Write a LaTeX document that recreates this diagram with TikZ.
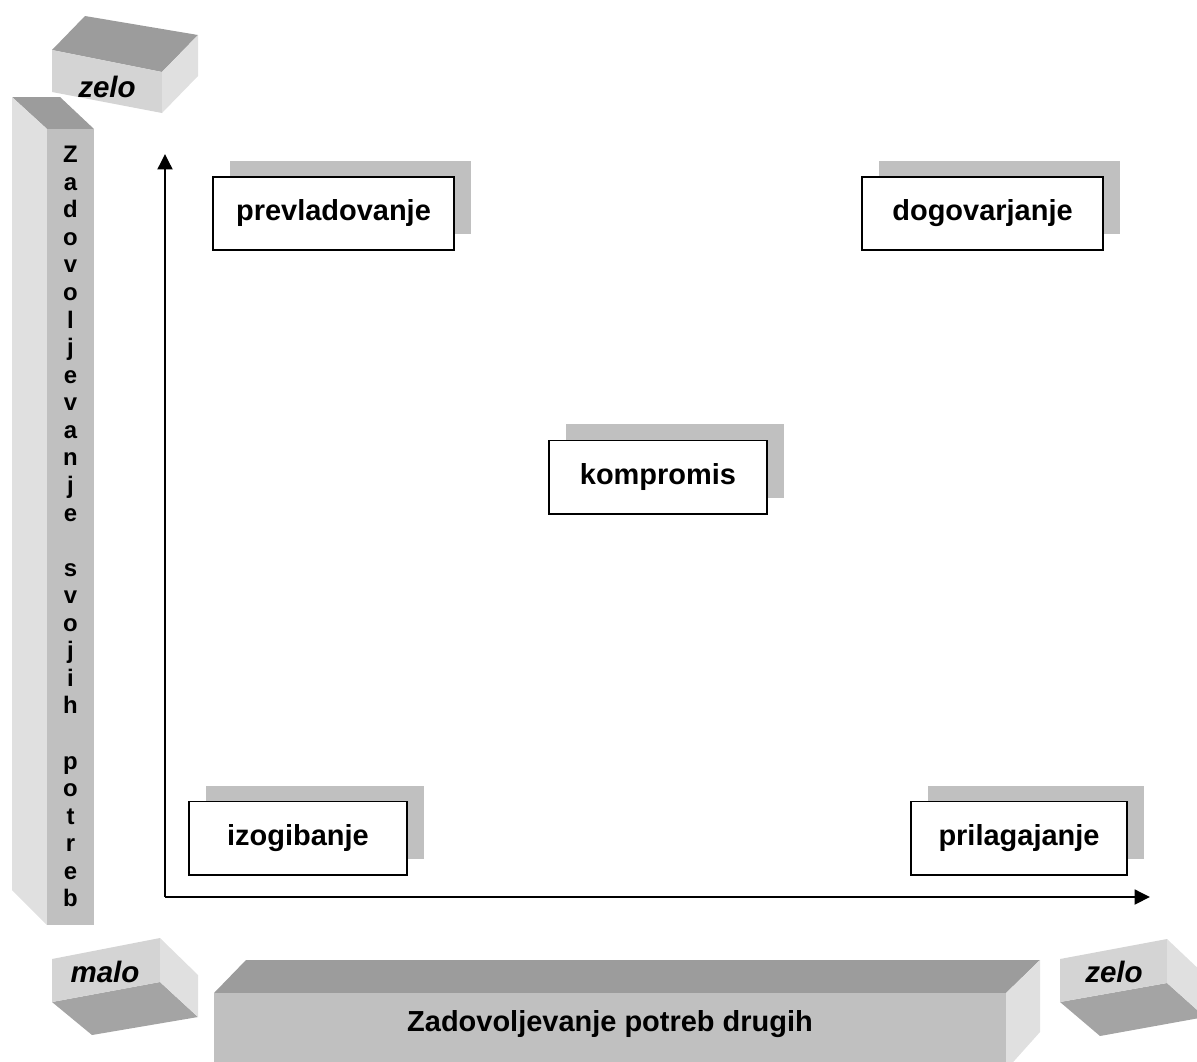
\documentclass[tikz,border=0pt]{standalone}
\usepackage{fontspec}
\setmainfont{Liberation Sans}
\usetikzlibrary{arrows.meta,shadows}
\definecolor{topgrey}{HTML}{9C9C9C}
\definecolor{frontgrey}{HTML}{C0C0C0}
\definecolor{sidegrey}{HTML}{E0E0E0}
\definecolor{capgrey}{HTML}{D4D4D4}
\definecolor{undergrey}{HTML}{A4A4A4}

\begin{document}
\begin{tikzpicture}[x=0.025cm,y=-0.025cm,
every node/.style={inner sep=0pt},
stylebox/.style={draw,line width=1.4pt,fill=white,minimum width=#1*0.025cm,
  minimum height=1.825cm,font=\fontsize{20.6}{24}\selectfont\bfseries,
  drop shadow={shadow xshift=0.42cm,shadow yshift=0.4cm,opacity=1,fill=frontgrey}},
endlabel/.style={font=\fontsize{21}{24}\selectfont\bfseries\itshape},
axis/.style={line width=1.9pt,-{Triangle[length=11pt,width=10.5pt]}}]
\useasboundingbox (0,0) rectangle (1197,1061);
\clip (0,0) rectangle (1197,1061);

% top zelo
\fill[topgrey] (52,50) -- (85,16) -- (198,35) -- (162,72) -- cycle;
\fill[capgrey] (52,50) -- (162,72) -- (162,113) -- (52,92) -- cycle;
\fill[sidegrey] (162,72) -- (198,35) -- (198,76) -- (162,113) -- cycle;
\node[endlabel] (zeloA) at (107,87) {zelo};

% vertical bar
\fill[topgrey] (12,97) -- (60,97) -- (94,129) -- (47,129) -- cycle;
\fill[sidegrey] (12,97) -- (47,129) -- (47,925) -- (12,890) -- cycle;
\fill[frontgrey] (47,129) rectangle (94,925);
\node[anchor=north,align=center,font=\fontsize{17}{19.6}\selectfont\bfseries]
  (own) at (70.5,146) {Z\\a\\d\\o\\v\\o\\l\\j\\e\\v\\a\\n\\j\\e\\ \\s\\v\\o\\j\\i\\h\\ \\p\\o\\t\\r\\e\\b};

% malo
\fill[undergrey] (52,1002) -- (160,982) -- (198,1017) -- (92,1035) -- cycle;
\fill[capgrey] (52,959) -- (160,938) -- (160,982) -- (52,1002) -- cycle;
\fill[sidegrey] (160,938) -- (198,975) -- (198,1017) -- (160,982) -- cycle;
\node[endlabel] (malo) at (105,972) {malo};

% bottom bar
\fill[topgrey] (214,993) -- (246,960) -- (1040,960) -- (1006,993) -- cycle;
\fill[frontgrey] (214,993) rectangle (1006,1065);
\fill[sidegrey] (1006,993) -- (1040,960) -- (1040,1032) -- (1006,1070) -- cycle;
\node[font=\fontsize{20.6}{24}\selectfont\bfseries] (others) at (610,1024)
  {Zadovoljevanje potreb drugih};

% right zelo
\fill[undergrey] (1060,1002) -- (1167,983) -- (1205,1017) -- (1100,1036) -- cycle;
\fill[capgrey] (1060,959) -- (1167,939) -- (1167,983) -- (1060,1002) -- cycle;
\fill[sidegrey] (1167,939) -- (1205,975) -- (1205,1017) -- (1167,983) -- cycle;
\node[endlabel] (zeloB) at (1114,972) {zelo};

% axes
\coordinate (O) at (165,897);
\coordinate (Ytip) at (165,154);
\coordinate (Xtip) at (1150,897);
\draw[axis] (O) -- (Ytip);
\draw[axis] (O) -- (Xtip);

% styles
\node[stylebox=241] (prev) at (333.5,213.5) {prevladovanje};
\node[stylebox=241] (dogo) at (982.5,213.5) {dogovarjanje};
\node[stylebox=218] (komp) at (658,477) {kompromis};
\node[stylebox=218] (izog) at (298,838) {izogibanje};
\node[stylebox=216] (pril) at (1019,838) {prilagajanje};
\end{tikzpicture}
\end{document}
